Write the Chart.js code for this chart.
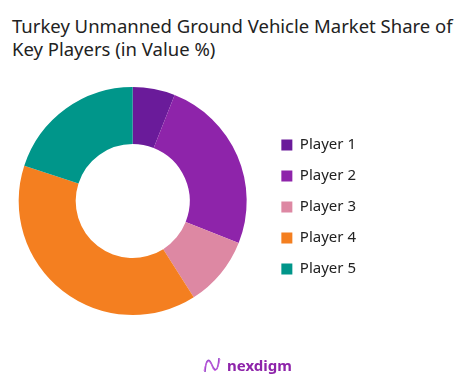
<!DOCTYPE html>
<html>
<head>
<meta charset="utf-8">
<script src="https://cdn.jsdelivr.net/npm/chart.js@4/dist/chart.umd.min.js"></script>
<style>
  html, body { margin: 0; padding: 0; background: #fff; }
  #wrap { position: relative; width: 465px; height: 385px; overflow: hidden; }
  #title { position: absolute; left: 12px; top: 14px; font-family: "Noto Sans", sans-serif; font-size: 18.5px; line-height: 23px; color: #222; }
  #chart { position: absolute; left: 0; top: 0; }
  #logo { position: absolute; left: 203px; top: 355px; height: 20px; display: flex; align-items: center; font-family: "Noto Sans", sans-serif; font-weight: 700; font-size: 15px; color: #8e24aa; }
  #logo svg { margin-right: 6px; }
</style>
</head>
<body>
<div id="wrap">
  <div id="title">Turkey Unmanned Ground Vehicle Market Share of<br>Key Players (in Value %)</div>
  <canvas id="chart" width="465" height="385"></canvas>
  <div id="logo">
    <svg width="18" height="18" viewBox="0 0 18 18"><path d="M2 16 C3 2, 6 2, 9 9 S15 16, 16 2" fill="none" stroke="#9c4dcc" stroke-width="1.6"/><path d="M1 15 C3 4, 7 3, 9 10 S14 17, 17 3" fill="none" stroke="#d05ce3" stroke-width="0.8"/></svg>
    <span>nexdigm</span>
  </div>
</div>
<script>
const players = ['Player 1', 'Player 2', 'Player 3', 'Player 4', 'Player 5'];
const shares = [6, 25, 10, 39, 20];
const colors = ['#6a1b9a', '#8e24aa', '#dd88a3', '#f47f20', '#00968a'];

const ctx = document.getElementById('chart').getContext('2d');
new Chart(ctx, {
    type: 'doughnut',
    data: {
        labels: players,
        datasets: [{
            data: shares,
            backgroundColor: colors,
            borderWidth: 0
        }]
    },
    options: {
        responsive: false,
        animation: false,
        cutout: '50%',
        layout: { padding: { top: 87, bottom: 70, left: 0, right: 99 } },
        plugins: {
            tooltip: { enabled: false },
            legend: {
                position: 'right',
                // empty title only pushes the items down a little
                title: { display: true, text: ' ', padding: 0, font: { size: 10, lineHeight: 1.2 } },
                labels: {
                    boxWidth: 11,
                    boxHeight: 11,
                    padding: 16,
                    color: '#222',
                    font: { family: 'Noto Sans', size: 15 }
                }
            }
        }
    }
});
</script>
</body>
</html>
